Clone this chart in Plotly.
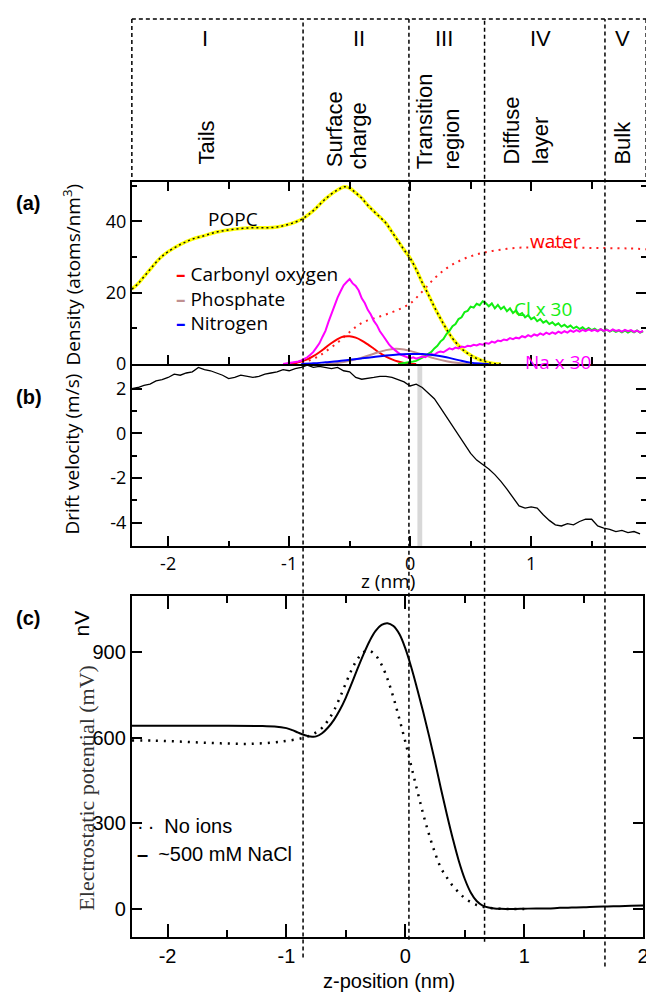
import plotly.graph_objects as go

W, H = 654, 1006
OFF = 8  # the page body margin shifts the figure by 8 px

# ---------------- Panel (a): densities ----------------
Z_POPC = [-2.3, -2.25, -2.2, -2.15, -2.1, -2.05, -2.0, -1.9, -1.8, -1.7, -1.6, -1.5, -1.4, -1.3,
          -1.2, -1.1, -1.0, -0.9, -0.8, -0.7, -0.6, -0.54, -0.5, -0.45, -0.4, -0.35, -0.3, -0.25,
          -0.2, -0.15, -0.1, -0.05, 0.0, 0.05, 0.1, 0.15, 0.2, 0.25, 0.3, 0.35, 0.4, 0.45, 0.5,
          0.55, 0.6, 0.65, 0.7, 0.75]
POPC = [21, 22.5, 24.5, 26.5, 28.5, 30.2, 31.5, 33.5, 35, 36, 37, 37.6, 38, 38.2,
        38.2, 38.4, 39.2, 40.5, 43, 46.3, 48.8, 49.7, 49.3, 48, 46.5, 44.5, 42.8, 41.2,
        39.5, 37, 34.5, 32, 29.7, 26.5, 22.8, 19.5, 16, 12.8, 9.8, 7.2, 5.2, 3.6, 2.5,
        1.6, 0.9, 0.4, 0.1, 0]

Z_WATER = [-0.95, -0.9, -0.85, -0.8, -0.75, -0.7, -0.6, -0.5, -0.4, -0.3, -0.2, -0.1, 0.0,
           0.1, 0.2, 0.3, 0.4, 0.5, 0.6, 0.7, 0.8, 0.9, 1.0, 1.2, 1.4, 1.6, 1.8, 1.95]
WATER = [0, 0.3, 0.8, 1.5, 2.3, 3.5, 6, 9, 11.5, 12.8, 13.9, 15.2, 17,
         20.3, 24, 26.8, 28.8, 30.2, 31.2, 31.8, 32.3, 32.6, 32.7, 32.8, 32.6, 32.5, 32.4, 32.2]

Z_CARB = [-1.05, -1.0, -0.95, -0.9, -0.85, -0.8, -0.75, -0.7, -0.65, -0.6, -0.55, -0.5, -0.45,
          -0.4, -0.35, -0.3, -0.25, -0.2, -0.15, -0.1, -0.05, 0.0, 0.05]
CARB = [0, 0.1, 0.3, 0.7, 1.3, 2.2, 3.3, 4.6, 5.9, 7.0, 7.7, 7.8, 7.4,
        6.6, 5.5, 4.3, 3.1, 2.1, 1.3, 0.7, 0.3, 0.1, 0]

Z_PHOS = [-0.7, -0.6, -0.5, -0.4, -0.3, -0.2, -0.12, -0.05, 0.0, 0.1, 0.2, 0.3, 0.4, 0.5]
PHOS = [0, 0.3, 0.9, 1.8, 2.9, 3.9, 4.3, 4.1, 3.7, 2.7, 1.6, 0.8, 0.3, 0]

Z_NITRO = [-0.9, -0.8, -0.7, -0.6, -0.5, -0.4, -0.3, -0.2, -0.1, 0.0, 0.1, 0.2, 0.3, 0.4, 0.5,
           0.6, 0.65]
NITRO = [0, 0.2, 0.5, 0.8, 1.2, 1.6, 2.0, 2.4, 2.7, 2.8, 2.8, 2.5, 1.9, 1.1, 0.4, 0.1, 0]

Z_ION = [-1.050, -1.025, -1.000, -0.975, -0.950, -0.925, -0.900, -0.875, -0.850, -0.825,
         -0.800, -0.775, -0.750, -0.725, -0.700, -0.675, -0.650, -0.625, -0.600, -0.575,
         -0.550, -0.525, -0.500, -0.475, -0.450, -0.425, -0.400, -0.375, -0.350, -0.325,
         -0.300, -0.275, -0.250, -0.225, -0.200, -0.175, -0.150, -0.125, -0.100, -0.075,
         -0.050, -0.025, 0.000, 0.025, 0.050, 0.075, 0.100, 0.125, 0.150, 0.175,
         0.200, 0.225, 0.250, 0.275, 0.300, 0.325, 0.350, 0.375, 0.400, 0.425,
         0.450, 0.475, 0.500, 0.525, 0.550, 0.575, 0.600, 0.625, 0.650, 0.675,
         0.700, 0.725, 0.750, 0.775, 0.800, 0.825, 0.850, 0.875, 0.900, 0.925,
         0.950, 0.975, 1.000, 1.025, 1.050, 1.075, 1.100, 1.125, 1.150, 1.175,
         1.200, 1.225, 1.250, 1.275, 1.300, 1.325, 1.350, 1.375, 1.400, 1.425,
         1.450, 1.475, 1.500, 1.525, 1.550, 1.575, 1.600, 1.625, 1.650, 1.675,
         1.700, 1.725, 1.750, 1.775, 1.800, 1.825, 1.850, 1.875, 1.900, 1.925]
NA_X30 = [0.0, 0.1, 0.2, 0.3, 0.5, 0.7, 1.0, 1.4, 1.9, 2.6,
          3.4, 4.6, 5.8, 7.6, 9.3, 11.8, 14.2, 16.0, 18.6, 20.4,
          22.1, 23.0, 23.8, 22.6, 21.9, 20.6, 18.4, 17.1, 15.2, 13.9,
          12.1, 10.9, 9.2, 8.0, 6.6, 5.5, 4.6, 3.8, 3.2, 2.6,
          2.3, 1.9, 1.6, 1.9, 1.5, 1.8, 2.1, 1.9, 2.5, 2.8,
          2.6, 3.2, 3.5, 3.3, 3.9, 4.4, 4.1, 4.6, 4.4, 4.9,
          4.7, 5.1, 5.0, 5.4, 5.2, 5.6, 5.4, 5.9, 5.7, 6.3,
          6.0, 6.6, 6.4, 6.9, 6.7, 7.3, 7.0, 7.4, 7.2, 7.8,
          7.5, 8.1, 7.7, 8.3, 8.0, 8.6, 8.2, 8.8, 8.4, 8.9,
          8.5, 9.1, 8.7, 9.2, 8.8, 9.4, 9.0, 9.5, 9.1, 9.6,
          9.2, 9.7, 9.3, 9.6, 9.2, 9.8, 9.3, 9.6, 9.2, 9.7,
          9.3, 9.5, 9.1, 9.6, 9.2, 9.5, 9.0, 9.4, 8.9, 9.3]
# Cl x 30 starts at z = -0.1 (last 82 points of Z_ION)
CL_X30 = [0.0, 0.1,
          0.2, 0.3, 0.5, 0.7, 0.9, 1.3, 1.7, 2.2, 2.9, 3.4,
          4.4, 5.1, 6.3, 7.0, 8.4, 9.3, 10.6, 11.2, 12.6, 13.1,
          14.6, 14.9, 16.1, 15.8, 16.9, 16.5, 17.6, 17.1, 16.2, 17.0,
          15.6, 16.6, 15.4, 16.1, 14.8, 15.6, 14.3, 15.0, 13.8, 14.3,
          13.1, 13.7, 12.6, 13.1, 12.0, 12.6, 11.6, 12.1, 11.2, 11.7,
          10.9, 11.4, 10.5, 11.0, 10.3, 10.8, 10.0, 10.5, 9.8, 10.3,
          9.6, 10.1, 9.5, 9.9, 9.3, 9.8, 9.2, 9.7, 9.1, 9.5,
          9.0, 9.4, 8.9, 9.4, 8.8, 9.3, 8.9, 9.4, 8.8, 9.2]

# ---------------- Panel (b): drift velocity ----------------
Z_DRIFT = [-2.30, -2.25, -2.20, -2.15, -2.10, -2.05, -2.00, -1.95, -1.90, -1.85,
           -1.80, -1.75, -1.70, -1.65, -1.60, -1.55, -1.50, -1.45, -1.40, -1.35,
           -1.30, -1.25, -1.20, -1.15, -1.10, -1.05, -1.00, -0.95, -0.90, -0.85,
           -0.80, -0.75, -0.70, -0.65, -0.60, -0.55, -0.50, -0.45, -0.40, -0.35,
           -0.30, -0.25, -0.20, -0.15, -0.10, -0.05, 0.00, 0.05, 0.10, 0.15,
           0.20, 0.25, 0.30, 0.35, 0.40, 0.45, 0.50, 0.55, 0.60, 0.65,
           0.70, 0.75, 0.80, 0.85, 0.90, 0.95, 1.00, 1.05, 1.10, 1.15,
           1.20, 1.25, 1.30, 1.35, 1.40, 1.45, 1.50, 1.55, 1.60, 1.65,
           1.70, 1.75, 1.80, 1.85, 1.90]
DRIFT = [2.0, 2.05, 2.15, 2.2, 2.35, 2.4, 2.5, 2.65, 2.6, 2.7,
         2.75, 2.95, 2.85, 2.8, 2.7, 2.6, 2.45, 2.5, 2.6, 2.55,
         2.5, 2.55, 2.65, 2.7, 2.75, 2.85, 2.8, 2.9, 2.95, 3.05,
         2.95, 3.0, 2.95, 2.9, 2.95, 2.8, 2.75, 2.5, 2.42, 2.45,
         2.5, 2.55, 2.55, 2.5, 2.4, 2.3, 2.12, 2.2, 2.05, 1.8,
         1.55, 1.15, 0.75, 0.35, -0.05, -0.45, -0.9, -1.2, -1.4, -1.6,
         -1.85, -2.15, -2.5, -2.9, -3.25, -3.35, -3.3, -3.35, -3.65, -3.9,
         -4.1, -4.15, -4.05, -4.1, -3.95, -3.85, -3.85, -4.15, -4.25, -4.3,
         -4.4, -4.35, -4.45, -4.4, -4.5]
GRAY_BAND = [0.06, 0.10]

# ---------------- Panel (c): electrostatic potential ----------------
Z_SALT = [-2.3, -2.0, -1.5, -1.2, -1.1,
          -1.0, -0.95, -0.9, -0.85, -0.8, -0.75, -0.7, -0.65, -0.6, -0.55,
          -0.5, -0.45, -0.4, -0.35, -0.3, -0.25, -0.2, -0.15, -0.1, -0.05,
          0.0, 0.05, 0.1, 0.15, 0.2, 0.25, 0.3, 0.35, 0.4, 0.45,
          0.5, 0.55, 0.6, 0.65, 0.7, 0.75, 0.8,
          0.9, 1.0, 1.1, 1.2, 1.3, 1.4, 1.5, 1.6, 1.7, 1.8, 1.9, 2.0]
POT_SALT = [641, 641, 641, 640, 639,
            633, 626, 617, 609, 604, 604, 615, 635, 662, 697,
            740, 790, 843, 893, 938, 973, 994, 1000, 990, 962,
            912, 846, 770, 690, 605, 515, 420, 330, 245, 168,
            105, 58, 28, 12, 5, 2, 1,
            0, 1, 2, 2, 4, 5, 6, 8, 9, 10, 11, 12]

Z_NOION = [-2.3, -2.1, -1.9, -1.7, -1.5, -1.3, -1.1, -1.0,
           -0.9, -0.85, -0.8, -0.75, -0.7, -0.65, -0.6, -0.55, -0.5, -0.45,
           -0.4, -0.35, -0.3, -0.25, -0.2, -0.15, -0.1, -0.05, 0.0, 0.05,
           0.1, 0.15, 0.2, 0.25, 0.3, 0.35, 0.4, 0.45, 0.5, 0.55,
           0.6, 0.65, 0.7, 0.75, 0.8, 0.9, 1.0]
POT_NOION = [590, 589, 586, 582, 579, 578, 583, 588,
             595, 600, 607, 618, 634, 660, 695, 740, 790, 838,
             876, 899, 903, 888, 855, 805, 740, 665, 585, 500,
             415, 333, 260, 196, 143, 110, 80, 58, 38, 24,
             14, 8, 4, 2, 1, 0, 0]

# region boundaries (z, nm, in panel a/b units) and region labels
BOUNDS = [-0.885, -0.01, 0.615, 1.61]
ROMAN = ["I", "II", "III", "IV", "V"]

SANS = "Liberation Sans, Arial, sans-serif"
MYR = "Open Sans, Noto Sans, sans-serif"
COND = "Liberation Sans Narrow, Liberation Sans, Arial, sans-serif"
SERIF = "Liberation Serif, Times New Roman, serif"


def PX(x):
    return (x - OFF) / W


def PY(y):
    return 1 - (y - OFF) / H


fig = go.Figure()

# panel (a)
fig.add_trace(go.Scatter(x=Z_WATER, y=WATER, mode="lines", line=dict(color="#ff2020", width=2, dash="2px,5px", shape="spline"), xaxis="x", yaxis="y"))
fig.add_trace(go.Scatter(x=Z_POPC, y=POPC, mode="lines", line=dict(color="#ffff00", width=3.5, shape="spline"), xaxis="x", yaxis="y"))
fig.add_trace(go.Scatter(x=Z_POPC, y=POPC, mode="lines", line=dict(color="#111111", width=1.5, dash="2px,3px", shape="spline"), xaxis="x", yaxis="y"))
fig.add_trace(go.Scatter(x=Z_CARB, y=CARB, mode="lines", line=dict(color="#ff0000", width=2, shape="spline"), xaxis="x", yaxis="y"))
fig.add_trace(go.Scatter(x=Z_PHOS, y=PHOS, mode="lines", line=dict(color="#c09090", width=2, shape="spline"), xaxis="x", yaxis="y"))
fig.add_trace(go.Scatter(x=Z_ION[-len(CL_X30):], y=CL_X30, mode="lines", line=dict(color="#11ee11", width=2), xaxis="x", yaxis="y"))
fig.add_trace(go.Scatter(x=Z_ION, y=NA_X30, mode="lines", line=dict(color="#ff00ff", width=2), xaxis="x", yaxis="y"))
fig.add_trace(go.Scatter(x=Z_NITRO, y=NITRO, mode="lines", line=dict(color="#0000ff", width=2, shape="spline"), xaxis="x", yaxis="y"))

# panel (b)
fig.add_trace(go.Scatter(x=Z_DRIFT, y=DRIFT, mode="lines", line=dict(color="black", width=1.3), xaxis="x2", yaxis="y2"))

# panel (c)
fig.add_trace(go.Scatter(x=Z_NOION, y=POT_NOION, mode="lines", line=dict(color="black", width=2.5, dash="2px,6px", shape="spline"), xaxis="x3", yaxis="y3"))
fig.add_trace(go.Scatter(x=Z_SALT, y=POT_SALT, mode="lines", line=dict(color="black", width=2, shape="spline"), xaxis="x3", yaxis="y3"))

axis_common = dict(showline=True, linewidth=2, linecolor="black", showgrid=False, zeroline=False,
                   ticks="inside", tickcolor="black", tickwidth=1.5)
TF = dict(family=MYR, size=18, color="black")
TFC = dict(family=COND, size=20, color="black")

fig.update_layout(
    width=W, height=H, margin=dict(l=0, r=0, t=0, b=0),
    paper_bgcolor="white", plot_bgcolor="white", showlegend=False,
    xaxis=dict(domain=[PX(133), PX(652)], range=[-2.3, 1.95], anchor="y", mirror="allticks",
               tickvals=[-2, -1, 0, 1], showticklabels=False, ticklen=9,
               minor=dict(tickmode="array", tickvals=[-1.5, -0.5, 0.5, 1.5], ticks="inside", ticklen=7, tickcolor="black"),
               **axis_common),
    yaxis=dict(domain=[PY(368), PY(184)], range=[0, 51], anchor="x", mirror="allticks",
               tickvals=[0, 20, 40], ticktext=["0", "20", "40"], ticklen=10,
               minor=dict(tickmode="array", tickvals=[10, 30, 50], ticks="inside", ticklen=5, tickcolor="black"),
               tickfont=TF, **axis_common),
    xaxis2=dict(domain=[PX(133), PX(652)], range=[-2.3, 1.95], anchor="y2", mirror=False,
                tickvals=[-2, -1, 0, 1], ticktext=["-2", "-1", "0", "1"], ticklen=10,
                minor=dict(tickmode="array", tickvals=[-1.5, -0.5, 0.5, 1.5], ticks="inside", ticklen=5, tickcolor="black"),
                tickfont=TF, **axis_common),
    yaxis2=dict(domain=[PY(552), PY(368)], range=[-5.05, 3.1], anchor="x2", mirror="allticks",
                tickvals=[-4, -2, 0, 2], ticktext=["-4", "-2", "0", "2"], ticklen=10,
                minor=dict(tickmode="array", tickvals=[-3, -1, 1], ticks="inside", ticklen=5, tickcolor="black"),
                tickfont=TF, **axis_common),
    xaxis3=dict(domain=[PX(133), PX(649)], range=[-2.3, 2.0], anchor="y3", mirror="allticks",
                tickvals=[-2, -1, 0, 1, 2], ticktext=["-2", "-1", "0", "1", "2"], ticklen=13,
                minor=dict(tickmode="array", tickvals=[-1.5, -0.5, 0.5, 1.5], ticks="inside", ticklen=7, tickcolor="black"),
                tickfont=TFC, **axis_common),
    yaxis3=dict(domain=[PY(947), PY(602)], range=[-97, 1097], anchor="x3", mirror="allticks",
                tickvals=[0, 300, 600, 900], ticktext=["0", "300", "600", "900"], ticklen=10,
                tickfont=TFC, **axis_common),
)

shapes = []
# gray band in (b)
shapes.append(dict(type="rect", xref="x2", yref="y2 domain", x0=GRAY_BAND[0], x1=GRAY_BAND[1], y0=0, y1=1,
                   fillcolor="#d8d8d8", line=dict(width=0), layer="below"))
dash_line = dict(color="black", width=1.5, dash="4px,3px")
# top dashed box
shapes.append(dict(type="line", xref="x domain", yref="paper", x0=0, x1=1, y0=PY(19), y1=PY(19), line=dash_line, layer="above"))
shapes.append(dict(type="line", xref="x domain", yref="paper", x0=0, x1=0, y0=PY(19), y1=PY(184), line=dash_line, layer="above"))
shapes.append(dict(type="line", xref="x domain", yref="paper", x0=1, x1=1, y0=PY(19), y1=PY(184), line=dash_line, layer="above"))
# region boundaries across the whole figure
BOTTOMS = [968, 950, 952, 977]
for b, bot in zip(BOUNDS, BOTTOMS):
    shapes.append(dict(type="line", xref="x", yref="paper", x0=b, x1=b, y0=PY(bot), y1=PY(19),
                       line=dash_line, layer="above"))
fig.update_layout(shapes=shapes)

ann = []


def txt(text, x, y, size, family=SANS, color="black", angle=0, xa="center", ya="middle"):
    ann.append(dict(text=text, x=PX(x), y=PY(y), xref="paper", yref="paper", showarrow=False,
                    font=dict(family=family, size=size, color=color), textangle=angle,
                    xanchor=xa, yanchor=ya))


# roman numerals
for t, x in zip(ROMAN, [207, 362, 448, 545, 628]):
    txt(t, x, 39, 22)
# rotated region descriptions
for t, x, yb in [("Tails", 208, 168), ("Surface", 337, 171), ("charge", 362, 173),
                 ("Transition", 428, 173), ("region", 456, 173), ("Diffuse", 516, 168),
                 ("layer", 545, 168), ("Bulk", 628, 168)]:
    txt(t, x, yb, 22, angle=-90, ya="bottom")

# panel labels
txt("<b>(a)</b>", 28, 205, 20)
txt("<b>(b)</b>", 29, 401, 20)
txt("<b>(c)</b>", 28, 625, 20)

# axis titles
txt("Density (atoms/nm<sup>3</sup>)", 73, 277, 19, family=MYR, angle=-90)
txt("Drift velocity (m/s)", 73, 459, 19, family=MYR, angle=-90)
txt("z (nm)", 392, 587, 19, family=MYR)
txt("Electrostatic potential (mV)", 87, 796, 22, family=SERIF, color="#333333", angle=-90)
txt("nV", 82, 630, 21, family=SANS, angle=-90)
txt("z-position (nm)", 393, 992, 20, family=COND)

# panel (a) legend
for label, color, y in [("Carbonyl oxygen", "#ff0000", 277), ("Phosphate", "#c09090", 302), ("Nitrogen", "#0000ff", 326)]:
    txt('<b><span style="color:%s">–</span></b> %s' % (color, label), 176, y, 19, family=MYR, xa="left")

# panel (a) curve labels in data coordinates
for t, zx, dy, col in [("POPC", -1.46, 40.6, "black"), ("water", 1.2, 34.4, "#ff0000"),
                       ("Cl x 30", 1.1, 15.5, "#11ee11"), ("Na x 30", 1.22, 0.6, "#ff00ff")]:
    ann.append(dict(text=t, x=zx, y=dy, xref="x", yref="y", showarrow=False,
                    font=dict(family=MYR, size=19, color=col)))

# panel (c) legend
txt("·\u2009·\u2002No ions", 136, 835, 20, family=COND, xa="left")
txt("<b>–</b>\u2002~500 mM NaCl", 136, 863, 20, family=COND, xa="left")

fig.update_layout(annotations=ann)
fig.write_html("out.html")
